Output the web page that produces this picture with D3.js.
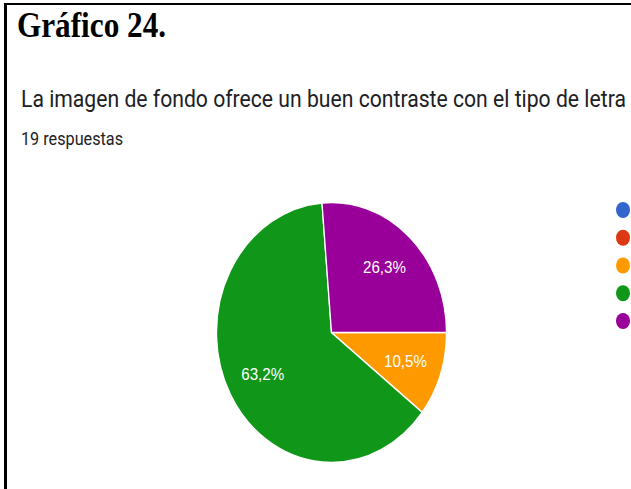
<!DOCTYPE html>
<html><head><meta charset="utf-8">
<script src="https://cdn.jsdelivr.net/npm/d3@7"></script>
<style>html,body{margin:0;padding:0;background:#fff;overflow:hidden}</style>
</head><body>
<svg id="c" width="631" height="489"></svg>
<script>
const categories = ["1", "2", "3", "4", "5"];
const counts = [0, 0, 2, 12, 5];
const percentLabels = ["0%", "0%", "10,5%", "63,2%", "26,3%"];
const colors = ["#3366cc", "#dc3912", "#ff9900", "#109618", "#990099"];
const titleText = "Gráfico 24.";
const questionText = "La imagen de fondo ofrece un buen contraste con el tipo de letra";
const responsesText = "19 respuestas";

const svg = d3.select("#c");
const sy = 1.13;

// borders
svg.append("rect").attr("x",4).attr("y",3).attr("width",3).attr("height",486).attr("fill","#000");
svg.append("rect").attr("x",4).attr("y",3).attr("width",627).attr("height",2).attr("fill","#000");

function fitText(x, y, txt, family, weight, size, color, targetW) {
  const t = svg.append("text").attr("font-family", family).attr("font-weight", weight)
    .attr("font-size", size).attr("fill", color).text(txt)
    .attr("transform", `translate(${x},${y}) scale(1,${sy})`);
  if (targetW) {
    const w = t.node().getComputedTextLength();
    t.attr("font-size", size * targetW / w);
  }
  return t;
}
fitText(17, 37, titleText, "'Liberation Serif','Times New Roman',serif", "bold", 28, "#000", 149);
fitText(21, 107, questionText, "Roboto, Arial, sans-serif", "normal", 19, "#202124", 605);
fitText(21, 145, responsesText, "Roboto, Arial, sans-serif", "normal", 13, "#202124", 102);

const r = 115;
const cx = 331.5, cy = 332.5;
const data = categories.map((c,i)=>({c, v: counts[i], lab: percentLabels[i], col: colors[i]}));
const pie = d3.pie().sort(null).value(d=>d.v).startAngle(Math.PI/2).endAngle(Math.PI/2 + 2*Math.PI);
const arcs = pie(data);
const arc = d3.arc().innerRadius(0).outerRadius(r);
const labelArc = d3.arc().innerRadius(r*0.68).outerRadius(r*0.68);

const pg = svg.append("g").attr("transform", `translate(${cx},${cy}) scale(1,${sy})`);
pg.selectAll("path").data(arcs.filter(a=>a.data.v>0)).join("path")
  .attr("d", arc).attr("fill", d=>d.data.col)
  .attr("stroke", "#fff").attr("stroke-width", 1.3);

arcs.filter(a=>a.data.v>0).forEach(a=>{
  const [lx, ly] = labelArc.centroid(a);
  const t = svg.append("text").attr("text-anchor","middle")
    .attr("font-family","Arial, 'Liberation Sans', sans-serif").attr("font-size",13)
    .attr("fill","#fff")
    .attr("transform", `translate(${cx+lx},${cy+ly*sy+5.5}) scale(1,${sy})`)
    .text(a.data.lab);
  const w = t.node().getComputedTextLength();
  t.attr("font-size", 13 * 43 / w);
});

// legend dots (labels are off the visible area)
const ly = d3.scalePoint().domain(categories).range([210, 321]);
svg.selectAll("ellipse.leg").data(data).join("ellipse").attr("class","leg")
  .attr("cx", 623).attr("cy", d=>ly(d.c)).attr("rx", 7).attr("ry", 8)
  .attr("fill", d=>d.col);
</script>
</body></html>
